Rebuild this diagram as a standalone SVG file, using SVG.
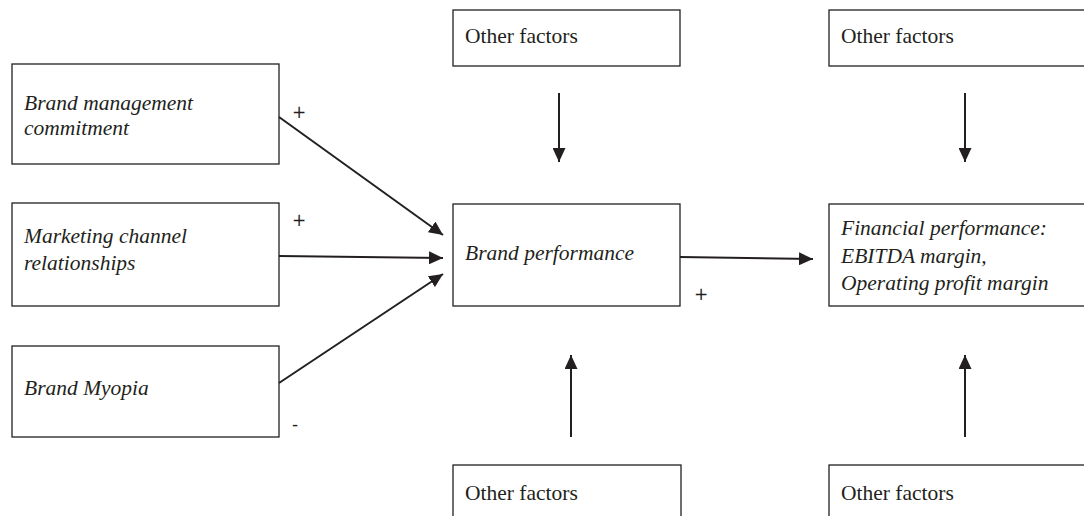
<svg xmlns="http://www.w3.org/2000/svg" width="1084" height="516" viewBox="0 0 1084 516">
<style>
.box{fill:#fff;stroke:#231f20;stroke-width:1.3}
.t{font-family:"Liberation Serif",serif;font-size:21.5px;fill:#231f20}
.i{font-style:italic}
.s{font-family:"DejaVu Sans",sans-serif;font-size:17px;fill:#231f20}
.c{stroke:#231f20;stroke-width:2;fill:none}
</style>
<defs>
<marker id="ah" viewBox="0 0 14 13" refX="14" refY="6.5" markerWidth="14" markerHeight="13" markerUnits="userSpaceOnUse" orient="auto">
<path d="M0,0 L14,6.5 L0,13 Z" fill="#231f20"/>
</marker>
</defs>
<rect width="1084" height="516" fill="#fff"/>
<g id="bmc"><rect class="box" x="12" y="64" width="267" height="100"/>
<text class="t i" x="24" y="110">Brand management</text><text class="t i" x="24" y="135">commitment</text></g>
<g id="mcr"><rect class="box" x="12" y="203" width="267" height="103"/>
<text class="t i" x="24" y="243">Marketing channel</text><text class="t i" x="24" y="270">relationships</text></g>
<g id="bm"><rect class="box" x="12" y="346" width="267" height="91"/>
<text class="t i" x="24" y="395">Brand Myopia</text></g>
<g id="of1"><rect class="box" x="453" y="10" width="227" height="56"/>
<text class="t" x="465" y="43">Other factors</text></g>
<g id="bp"><rect class="box" x="453" y="204" width="227" height="102"/>
<text class="t i" x="465" y="260">Brand performance</text></g>
<g id="of2"><rect class="box" x="453" y="465" width="228" height="60"/>
<text class="t" x="465" y="500">Other factors</text></g>
<g id="of3"><rect class="box" x="829" y="10" width="260" height="56"/>
<text class="t" x="841" y="43">Other factors</text></g>
<g id="fp"><rect class="box" x="829" y="204" width="260" height="102"/>
<text class="t i" x="841" y="235">Financial performance:</text><text class="t i" x="841" y="263">EBITDA margin,</text><text class="t i" x="841" y="290">Operating profit margin</text></g>
<g id="of4"><rect class="box" x="829" y="465" width="260" height="60"/>
<text class="t" x="841" y="500">Other factors</text></g>
<g id="connectors">
<line class="c" x1="279" y1="117" x2="443" y2="235" marker-end="url(#ah)"/>
<line class="c" x1="279" y1="256" x2="443" y2="258" marker-end="url(#ah)"/>
<line class="c" x1="279" y1="383" x2="443" y2="274" marker-end="url(#ah)"/>
<line class="c" x1="680" y1="257" x2="813" y2="259" marker-end="url(#ah)"/>
<line class="c" x1="559" y1="93" x2="559" y2="162" marker-end="url(#ah)"/>
<line class="c" x1="965" y1="93" x2="965" y2="162" marker-end="url(#ah)"/>
<line class="c" x1="571" y1="437" x2="571" y2="355" marker-end="url(#ah)"/>
<line class="c" x1="965" y1="437" x2="965" y2="355" marker-end="url(#ah)"/>
</g>
<g id="signs">
<text class="s" x="292" y="118">+</text>
<text class="s" x="292" y="226">+</text>
<text class="s" x="292" y="430">-</text>
<text class="s" x="694" y="300">+</text>
</g>
</svg>
